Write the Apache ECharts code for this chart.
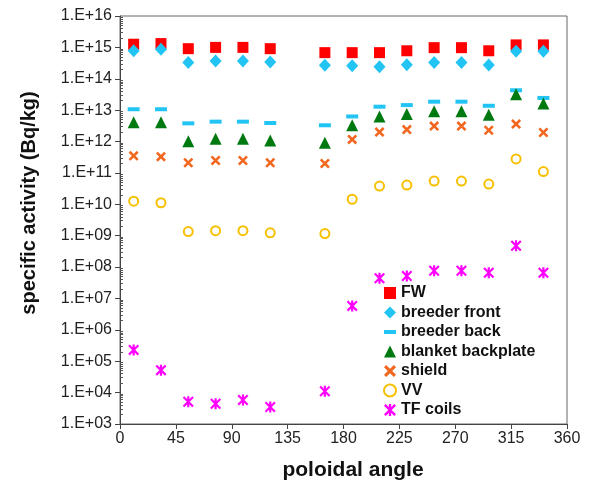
<!DOCTYPE html>
<html>
<head>
<meta charset="utf-8">
<script src="https://cdn.jsdelivr.net/npm/echarts@6/dist/echarts.min.js"></script>
<style>html,body{margin:0;padding:0;background:#fff}#c{width:596px;height:490px}</style>
</head>
<body>
<div id="c"></div>
<script>
const angles = [11, 33, 55, 77, 99, 121, 165, 187, 209, 231, 253, 275, 297, 319, 341];
const xTicks = [0, 45, 90, 135, 180, 225, 270, 315, 360];
const fw = [1.26e15, 1.32e15, 9.1e14, 1.0e15, 1.0e15, 9.1e14, 6.8e14, 6.8e14, 6.8e14, 7.8e14, 9.8e14, 9.8e14, 7.8e14, 1.2e15, 1.2e15];
const breederFront = [7.8e14, 8.7e14, 3.3e14, 3.7e14, 3.7e14, 3.4e14, 2.7e14, 2.6e14, 2.4e14, 2.8e14, 3.3e14, 3.3e14, 2.75e14, 7.6e14, 7.6e14];
const breederBack = [1.07e13, 1.07e13, 3.8e12, 4.3e12, 4.3e12, 3.9e12, 3.3e12, 6.3e12, 1.29e13, 1.45e13, 1.86e13, 1.86e13, 1.38e13, 4.3e13, 2.45e13];
const blanket = [4.1e12, 4.1e12, 1.02e12, 1.23e12, 1.23e12, 1.07e12, 9.1e11, 3.3e12, 6.3e12, 7.6e12, 9.3e12, 9.3e12, 7.1e12, 3.2e13, 1.62e13];
const shield = [3.5e11, 3.3e11, 2.1e11, 2.5e11, 2.5e11, 2.1e11, 2.0e11, 1.17e12, 2.0e12, 2.4e12, 3.1e12, 3.1e12, 2.3e12, 3.6e12, 1.95e12];
const vv = [1.26e10, 1.12e10, 1.35e9, 1.45e9, 1.45e9, 1.23e9, 1.17e9, 1.45e10, 3.8e10, 4.1e10, 5.5e10, 5.5e10, 4.4e10, 2.8e11, 1.1e11];
const tf = [2.3e5, 5.2e4, 5.1e3, 4.4e3, 5.8e3, 3.5e3, 1.1e4, 5.8e6, 4.4e7, 5.2e7, 7.6e7, 7.6e7, 6.6e7, 4.8e8, 6.6e7];
const seriesNames = ['FW', 'breeder front', 'breeder back', 'blanket backplate', 'shield', 'VV', 'TF coils'];
const yMin = 1e3, yMax = 1e16;

const pair = arr => angles.map((a, i) => [a, arr[i]]);
const minorTicks = [];
for (let e = 3; e < 16; e++) for (let m = 2; m <= 9; m++) minorTicks.push(m * Math.pow(10, e));

const xPath = 'path://M0,1.8L1.8,0L10,8.2L8.2,10Z M8.2,0L10,1.8L1.8,10L0,8.2Z';
const starPath = 'path://M4,0H6V10H4Z M0,1.4L1.4,0L10,8.6L8.6,10Z M8.6,0L10,1.4L1.4,10L0,8.6Z';
const dashPath = 'path://M0,0H12V4H0Z';

const chart = echarts.init(document.getElementById('c'), null, {renderer: 'canvas'});
const font = 'Liberation Sans, Arial, Helvetica, sans-serif';
chart.setOption({
  animation: false,
  textStyle: {fontFamily: font},
  grid: {left: 120, right: 29, top: 16, bottom: 66, show: true, borderColor: '#666', borderWidth: 1, backgroundColor: 'transparent'},
  xAxis: {
    type: 'value', min: 0, max: 360, interval: 45,
    axisLine: {show: true, lineStyle: {color: '#444', width: 1}},
    axisTick: {show: true, inside: false, length: 5, lineStyle: {color: '#444'}},
    axisLabel: {show: true, margin: 7, fontSize: 16, color: '#222', fontFamily: font,
      customValues: xTicks},
    splitLine: {show: false}
  },
  yAxis: [{
    type: 'log', logBase: 10, min: yMin, max: yMax, interval: 1,
    axisLine: {show: true, lineStyle: {color: '#444', width: 1}},
    axisTick: {show: true, inside: false, length: 5, lineStyle: {color: '#444'}},
    axisLabel: {show: true, margin: 8, fontSize: 16, color: '#222', fontFamily: font,
      formatter: v => { const e = Math.round(Math.log10(v)); return '1.E+' + (e < 10 ? '0' + e : e); }},
    splitLine: {show: false}
  }, {
    type: 'log', logBase: 10, min: yMin, max: yMax, position: 'left', offset: 0,
    axisLine: {show: false},
    axisTick: {show: true, inside: true, length: 3, customValues: minorTicks, lineStyle: {color: '#555'}},
    axisLabel: {show: false},
    splitLine: {show: false}
  }],
  legend: {
    orient: 'vertical', left: 378, top: 280, itemWidth: 12, itemHeight: 12, itemGap: 3.5,
    textStyle: {fontSize: 16, fontWeight: 'bold', color: '#111', fontFamily: font},
    data: seriesNames
  },
  graphic: [{
    type: 'text', x: 29, y: 203, rotation: Math.PI / 2,
    style: {text: 'specific activity (Bq/kg)', font: 'bold 20px ' + font, fill: '#111', align: 'center', verticalAlign: 'middle'}
  }, {
    type: 'text', x: 353, y: 470,
    style: {text: 'poloidal angle', font: 'bold 21px ' + font, fill: '#111', align: 'center', verticalAlign: 'middle'}
  }],
  series: [
    {name: seriesNames[0], type: 'scatter', data: pair(fw), symbol: 'rect', symbolSize: 11, itemStyle: {color: '#FF0000', opacity: 1}},
    {name: seriesNames[1], type: 'scatter', data: pair(breederFront), symbol: 'diamond', symbolSize: [12, 13], itemStyle: {color: '#22C4F4', opacity: 1}},
    {name: seriesNames[2], type: 'scatter', data: pair(breederBack), symbol: dashPath, symbolSize: [12, 4], itemStyle: {color: '#22C4F4', opacity: 1}},
    {name: seriesNames[3], type: 'scatter', data: pair(blanket), symbol: 'triangle', symbolSize: 12, itemStyle: {color: '#007A10', opacity: 1}},
    {name: seriesNames[4], type: 'scatter', data: pair(shield), symbol: xPath, symbolSize: 10, itemStyle: {color: '#F2661E', opacity: 1}},
    {name: seriesNames[5], type: 'scatter', data: pair(vv), symbol: 'circle', symbolSize: 9, itemStyle: {color: '#ffffff', borderColor: '#F7C000', borderWidth: 2, opacity: 1}},
    {name: seriesNames[6], type: 'scatter', data: pair(tf), symbol: starPath, symbolSize: 11, itemStyle: {color: '#FF00FF', opacity: 1}}
  ]
});
</script>
</body>
</html>
